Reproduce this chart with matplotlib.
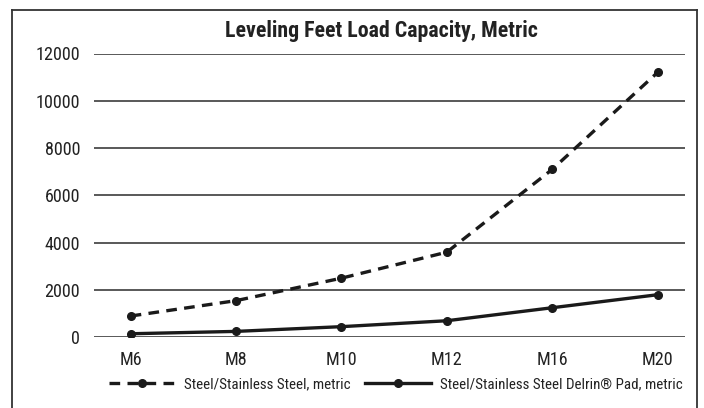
import os
import matplotlib
matplotlib.use("Agg")
import matplotlib.pyplot as plt
from matplotlib import font_manager
from matplotlib.font_manager import FontProperties
from matplotlib.lines import Line2D

categories = ["M6", "M8", "M10", "M12", "M16", "M20"]
steel = [900, 1550, 2500, 3600, 7100, 11200]
delrin = [150, 250, 450, 700, 1250, 1800]
yticks = [0, 2000, 4000, 6000, 8000, 10000, 12000]
series_names = ["Steel/Stainless Steel, metric", "Steel/Stainless Steel Delrin\u00ae Pad, metric"]
title = "Leveling Feet Load Capacity, Metric"


def pick_font(bold):
    best = None
    best_score = -1
    for f in font_manager.fontManager.ttflist:
        n = f.name.lower()
        fn = os.path.basename(f.fname).lower()
        cond = ("narrow" in n or "condensed" in n or "narrow" in fn or "condensed" in fn
                or str(f.stretch) in ("condensed", "semi-condensed", "extra-condensed"))
        if not cond:
            continue
        if "mono" in n or "serif" in n.replace("sans", ""):
            continue
        if "italic" in fn or "oblique" in fn or f.style != "normal":
            continue
        w = f.weight if isinstance(f.weight, int) else (700 if "bold" in str(f.weight) else 400)
        isbold = w >= 600 or "bold" in fn
        if "light" in fn or "thin" in fn or "black" in fn or "semibold" in fn or "medium" in fn:
            continue
        score = 10 if isbold == bold else 0
        if "liberation" in n:
            score += 5
        elif "roboto" in n:
            score += 4
        elif "open" in n:
            score += 3
        elif "dejavu" in n:
            score += 2
        if score > best_score:
            best_score = score
            best = f.fname
    if best is not None:
        return FontProperties(fname=best)
    return FontProperties(family="Liberation Sans", weight="bold" if bold else "normal")


fp_reg = pick_font(False)
fp_bold = pick_font(True)

W, H = 704, 408
fig = plt.figure(figsize=(W/100, H/100), dpi=100)
renderer = fig.canvas.get_renderer()


def fit_size(text, fp, target_px, base=13.0):
    t = fig.text(0, 0, text, fontproperties=fp, fontsize=base)
    w = t.get_window_extent(renderer).width
    t.remove()
    return base * target_px / w


tick_fs = fit_size("12000", fp_reg, 40) * 1.12
title_fs = fit_size(title, fp_bold, 299) * 1.04
leg_fs = min(fit_size(series_names[0], fp_reg, 164), fit_size(series_names[1], fp_reg, 236)) * 1.02

ax = fig.add_axes([94/W, (H-337.3)/H, (685-94)/W, (337.3-53.5)/H])

x = list(range(len(categories)))
col = "#1a1a1a"
ax.plot(x, steel, color=col, lw=2.4, ls=(0, (3.2, 2.2)), marker="o", ms=5.5, label=series_names[0])
ax.plot(x, delrin, color=col, lw=2.4, ls="-", marker="o", ms=5.5, label=series_names[1])

ax.set_ylim(0, 12000)
ax.set_xlim(-0.348, 5.26)
ax.set_yticks(yticks)
ax.set_yticklabels([str(v) for v in yticks])
ax.set_xticks(x)
ax.set_xticklabels(categories)
for lab in ax.get_xticklabels() + ax.get_yticklabels():
    lab.set_fontproperties(fp_reg)
    lab.set_fontsize(tick_fs)
ax.tick_params(axis="both", length=0, colors="#222222")
ax.tick_params(axis="y", pad=10)
ax.tick_params(axis="x", pad=10)
ax.grid(axis="y", color="#3c3c3c", lw=1.2)
ax.set_axisbelow(True)
for s in ax.spines.values():
    s.set_visible(False)

fig.text(381/W, (H-31)/H, title, ha="center", va="center", fontproperties=fp_bold,
         fontsize=title_fs, color="#222222")

leg_prop = fp_reg.copy()
leg_prop.set_size(leg_fs)
em = leg_fs * 100 / 72
leg = fig.legend(loc="center", bbox_to_anchor=(396/W, (H-384)/H), ncol=2, frameon=False,
                 prop=leg_prop, handlelength=66/em, handletextpad=9/em,
                 columnspacing=15/em, numpoints=1, labelcolor="#222222")

# outer frame
for xs, ys in (([12/W, 12/W], [0, (H-10)/H]), ([697/W, 697/W], [0, (H-10)/H]),
               ([12/W, 697/W], [(H-10)/H, (H-10)/H])):
    fig.add_artist(Line2D(xs, ys, color="#333333", lw=1.3, transform=fig.transFigure))

fig.savefig("out.png", dpi=100)
